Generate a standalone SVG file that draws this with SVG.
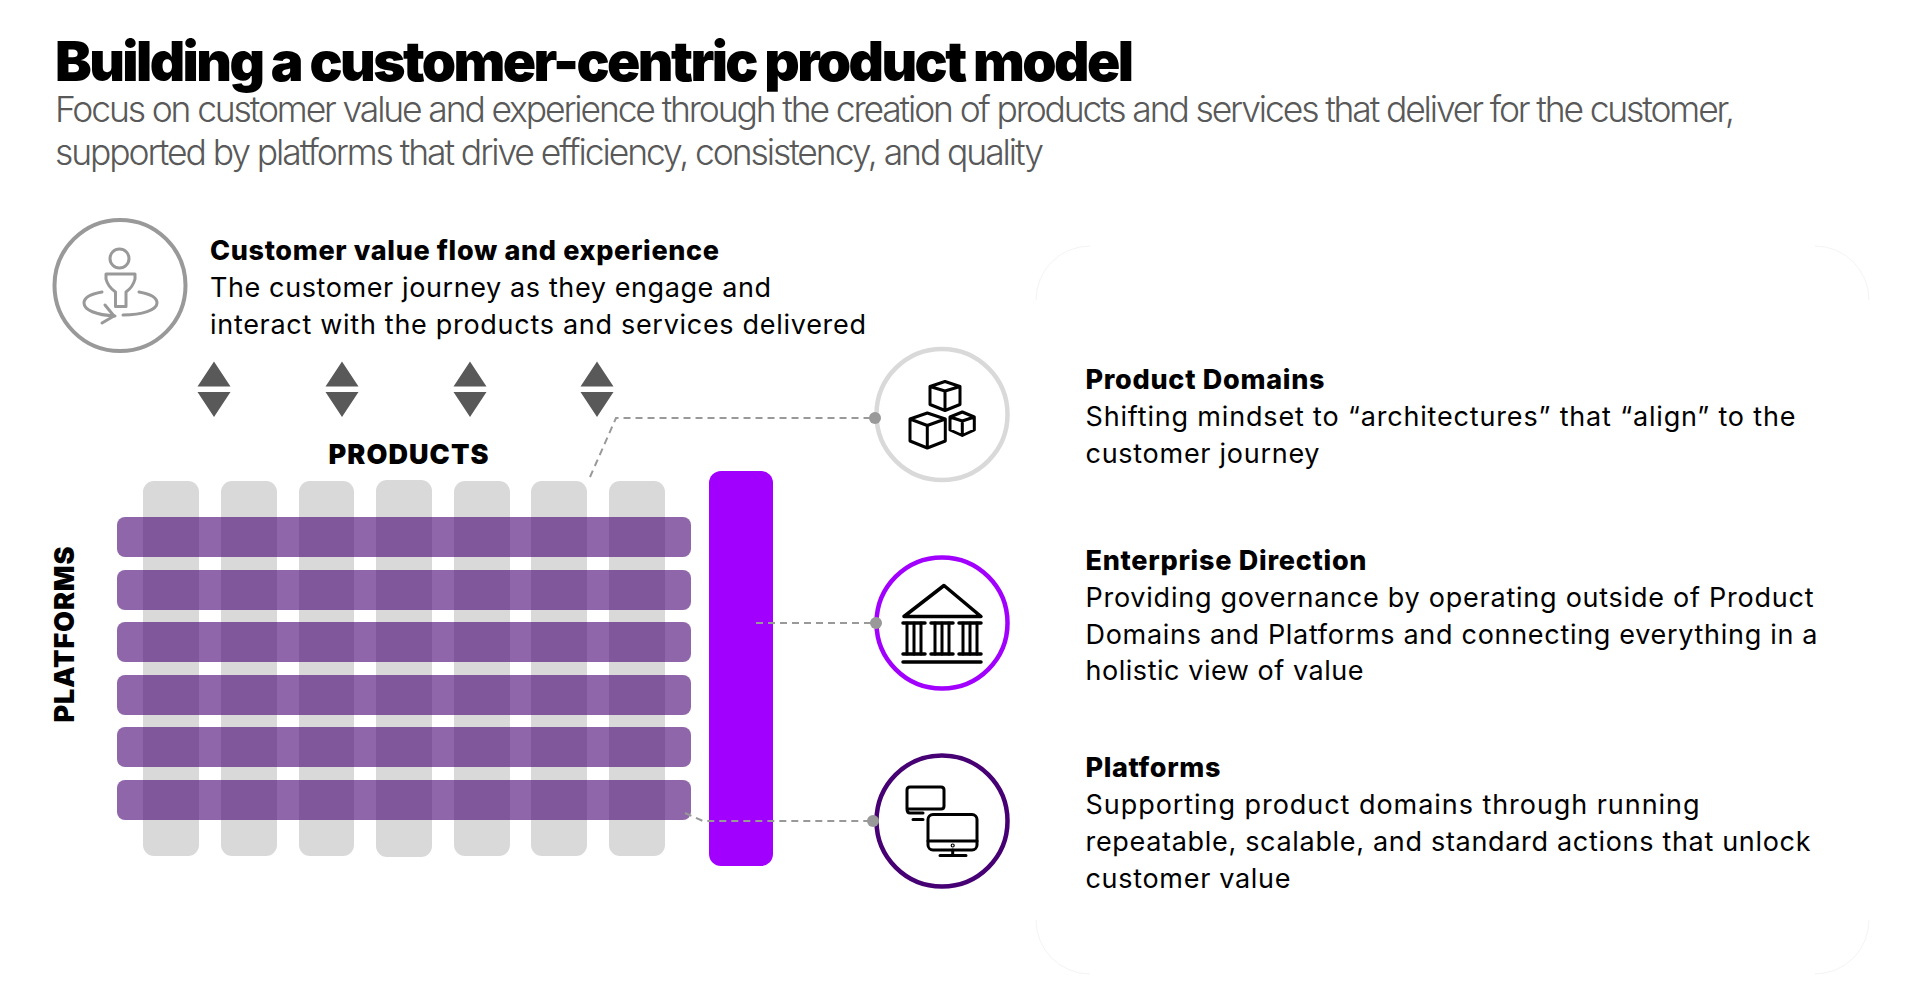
<svg xmlns="http://www.w3.org/2000/svg" width="1913" height="981" viewBox="0 0 1913 981">
<style>
text{font-family:Inter,"Liberation Sans",sans-serif;fill:#000}
.title{font-size:55px;font-weight:900}
.sub{font-size:35.500px;fill:#595959;font-weight:300}
.h{font-size:27px;font-weight:800}
.b{font-size:27px;font-weight:400}
.col{fill:#d9d9d9}
.bar{fill:#460073;fill-opacity:.6}
.tri{fill:#595959}
.dash{fill:none;stroke:#999;stroke-width:2;stroke-dasharray:7 5}
.dot{fill:#999}
.ic{fill:none;stroke:#000;stroke-width:3;stroke-linecap:round;stroke-linejoin:round}
.ig{fill:none;stroke:#999;stroke-width:3;stroke-linecap:round;stroke-linejoin:round}
.ring{fill:#fff;stroke-width:4.5}
.panel{fill:none;stroke:#f4f4f4;stroke-width:1}
</style>
<rect width="1913" height="981" fill="#fff"/>
<g id="title-block">
<text class="title" x="55" y="81" textLength="1079">Building a customer-centric product model</text>
<text class="sub" x="55" y="122" textLength="1680">Focus on customer value and experience through the creation of products and services that deliver for the customer,</text>
<text class="sub" x="55" y="165" textLength="989">supported by platforms that drive efficiency, consistency, and quality</text>
</g>
<g id="panel">
<path class="panel" d="M1036 300A54 54 0 0 1 1090 246M1815 246A54 54 0 0 1 1869 300M1869 920A54 54 0 0 1 1815 974M1090 974A54 54 0 0 1 1036 920"/>
</g>
<g id="customer-node">
<circle cx="120" cy="285.500" r="65.500" fill="#fff" stroke="#999" stroke-width="4"/>
<g class="ig">
<circle cx="119.500" cy="258.500" r="9.500"/>
<path d="M106 274H135V279Q133 287 126 292V306.500H115.500V292Q108 287 106 279Z"/>
<path d="M102 292C90 294 84 298 84 303C84 310 96 315 115 316"/>
<path d="M105 305L114 316L102 323"/>
<path d="M139 292C151 294 157 298 157 303C157 310 142 315 123 315"/>
</g>
<text class="h" x="210" y="260" textLength="509">Customer value flow and experience</text>
<text class="b" x="210" y="297" textLength="561">The customer journey as they engage and</text>
<text class="b" x="210" y="333.500" textLength="656">interact with the products and services delivered</text>
</g>
<g id="flow-arrows">
<path class="tri" d="M197.500 386.500L214 361.500L230.500 386.500ZM197.500 392H230.500L214 417Z"/>
<path class="tri" d="M325.500 386.500L342 361.500L358.500 386.500ZM325.500 392H358.500L342 417Z"/>
<path class="tri" d="M453.500 386.500L470 361.500L486.500 386.500ZM453.500 392H486.500L470 417Z"/>
<path class="tri" d="M580.500 386.500L597 361.500L613.500 386.500ZM580.500 392H613.500L597 417Z"/>
</g>
<g id="products-label"><text class="h" x="328.500" y="464" textLength="160" style="font-weight:900">PRODUCTS</text></g>
<g id="platforms-label"><text class="h" transform="translate(74 722.500) rotate(-90)" textLength="176" style="font-weight:900">PLATFORMS</text></g>
<g id="products">
<rect class="col" x="143" y="481" width="56" height="375" rx="11"/>
<rect class="col" x="221" y="481" width="56" height="375" rx="11"/>
<rect class="col" x="299" y="481" width="55" height="375" rx="11"/>
<rect class="col" x="376" y="480" width="56" height="377" rx="11"/>
<rect class="col" x="454" y="481" width="56" height="375" rx="11"/>
<rect class="col" x="531" y="481" width="56" height="375" rx="11"/>
<rect class="col" x="609" y="481" width="56" height="375" rx="11"/>
</g>
<g id="platforms">
<rect class="bar" x="117" y="517" width="574" height="40" rx="8"/>
<rect class="bar" x="117" y="570" width="574" height="40" rx="8"/>
<rect class="bar" x="117" y="622" width="574" height="40" rx="8"/>
<rect class="bar" x="117" y="675" width="574" height="40" rx="8"/>
<rect class="bar" x="117" y="727" width="574" height="40" rx="8"/>
<rect class="bar" x="117" y="780" width="574" height="40" rx="8"/>
</g>
<g id="enterprise-bar"><rect x="709" y="471" width="64" height="395" rx="12" fill="#a100ff"/></g>
<g id="connectors">
<path class="dash" d="M590 477L616 418H875"/>
<path class="dash" d="M756 623H876"/>
<path class="dash" d="M685 813L703 821H873"/>
</g>
<g id="product-domains-node">
<circle class="ring" cx="942" cy="414.500" r="65.500" stroke="#d9d9d9"/>
<circle class="dot" cx="875" cy="418" r="6"/>
<g class="ic">
<path d="M930 386.500L945 381.500L960 386.500V404.500L945 410.500L930 404.500ZM930 386.500L945 391L960 386.500M945 391V410.500"/>
<path d="M910 419L927.300 413L945.300 419V441L927.300 448L910 441ZM910 419L927.300 425.500L945.300 419M927.300 425.500V448"/>
<path d="M950 417L962.300 412L974.300 417V430L962.300 435.500L950 430ZM950 417L962.300 421L974.300 417M962.300 421V435.500"/>
</g>
<text class="h" x="1085.500" y="389" textLength="239">Product Domains</text>
<text class="b" x="1085.500" y="426" textLength="710">Shifting mindset to “architectures” that “align” to the</text>
<text class="b" x="1085.500" y="462.500" textLength="234">customer journey</text>
</g>
<g id="enterprise-direction-node">
<circle class="ring" cx="942" cy="623" r="65.500" stroke="#a100ff"/>
<circle class="dot" cx="876" cy="623" r="6"/>
<g class="ic">
<path d="M904 616.500L944 585.500L981 616.500Z" stroke-width="3.500"/>
<path d="M903 623H925M931 623H953M959 623H981M903 654H925M931 654H953M959 654H981M903 662H981" stroke-width="3.500"/>
<path d="M907 623V654M914 623V654M921 623V654M935 623V654M942 623V654M949 623V654M963 623V654M970 623V654M977 623V654"/>
</g>
<text class="h" x="1085.500" y="570" textLength="281">Enterprise Direction</text>
<text class="b" x="1085.500" y="607" textLength="728">Providing governance by operating outside of Product</text>
<text class="b" x="1085.500" y="643.500" textLength="732">Domains and Platforms and connecting everything in a</text>
<text class="b" x="1085.500" y="680" textLength="278">holistic view of value</text>
</g>
<g id="platforms-node">
<circle class="ring" cx="942" cy="821" r="65.500" stroke="#460073"/>
<circle class="dot" cx="873" cy="821" r="6"/>
<g class="ic">
<path d="M907 809V790Q907 787 910 787H941Q944 787 944 790V806Q944 809 941 809H907Q907 813 910 813H923M913 819.500H923"/>
<rect x="928" y="814.500" width="49" height="35.500" rx="5"/>
<path d="M928 841H977M952.700 850V855.500M940 855.500H966"/>
<circle cx="952.700" cy="845.500" r=".6"/>
</g>
<text class="h" x="1085.500" y="777" textLength="135">Platforms</text>
<text class="b" x="1085.500" y="814" textLength="614">Supporting product domains through running</text>
<text class="b" x="1085.500" y="850.500" textLength="725">repeatable, scalable, and standard actions that unlock</text>
<text class="b" x="1085.500" y="887.500" textLength="205">customer value</text>
</g>
</svg>
